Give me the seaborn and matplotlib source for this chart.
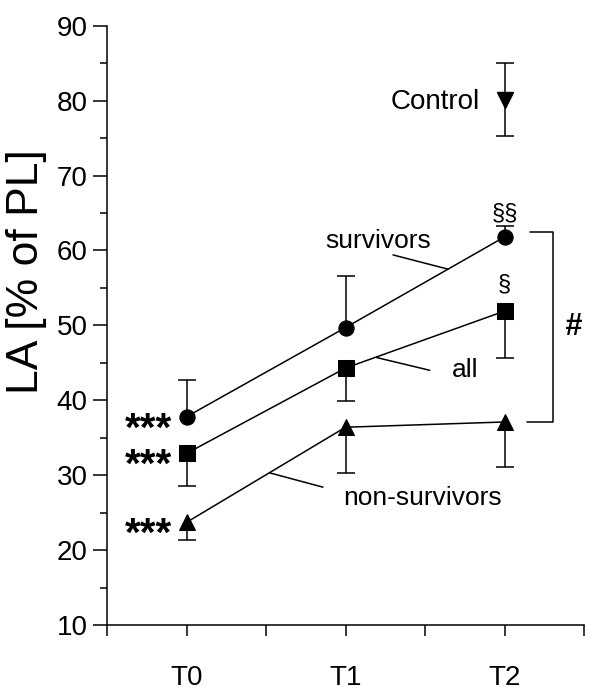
import numpy as np
import pandas as pd
import matplotlib
matplotlib.use("Agg")
import matplotlib.pyplot as plt
import seaborn as sns

# data
timepoints = ["T0", "T1", "T2"]
survivors = [37.8, 49.7, 61.8]
survivors_err_up = [4.9, 6.9, 1.4]
all_patients = [32.9, 44.3, 51.9]
all_err_low = [4.3, 4.4, 6.3]
non_survivors = [23.7, 36.4, 37.1]
non_survivors_err_low = [2.4, 6.1, 6.0]
control_value = 80.1
control_err = [4.8, 4.9]  # low, up

groups = ["survivors", "all", "non-survivors"]
series = [survivors, all_patients, non_survivors]

sns.set_style("ticks")
plt.rcParams["font.family"] = ["Liberation Sans", "DejaVu Sans"]
for k in ["text.color", "axes.labelcolor", "xtick.color", "ytick.color", "axes.edgecolor"]:
    plt.rcParams[k] = "black"

pos = np.arange(len(timepoints)) + 1
rows = []
for g, vals in zip(groups, series):
    for p, v in zip(pos, vals):
        rows.append({"group": g, "pos": p, "value": v})
df = pd.DataFrame(rows)

fig = plt.figure(figsize=(6, 6.98), dpi=100)
ax = fig.add_axes([107 / 600, 73 / 698, 477 / 600, 599.3 / 698])

# error bars (one-sided), caps drawn as markers
def one_sided(x, y, low, up):
    low = np.asarray(low, float)
    up = np.asarray(up, float)
    ax.errorbar(x, y, yerr=[low, up], fmt="none", ecolor="black",
                elinewidth=1.1, capsize=0, zorder=1)
    y = np.asarray(y, float)
    ends = []
    for xi, yi, lo, hi in zip(x, y, low, up):
        if lo > 0:
            ends.append((xi, yi - lo))
        if hi > 0:
            ends.append((xi, yi + hi))
    ex, ey = zip(*ends)
    ax.plot(ex, ey, ls="none", marker="_", ms=13, mew=1.1, color="black", zorder=1)

zero = [0, 0, 0]
one_sided(pos, survivors, zero, survivors_err_up)
one_sided(pos, all_patients, all_err_low, zero)
one_sided(pos, non_survivors, non_survivors_err_low, zero)
one_sided([3], [control_value], [control_err[0]], [control_err[1]])

sns.lineplot(data=df, x="pos", y="value", hue="group", style="group",
             palette=["black"] * 3, markers={"survivors": "o", "all": "s", "non-survivors": "^"},
             dashes=False, markersize=11, markeredgecolor="black", linewidth=1.1,
             legend=False, ax=ax, zorder=3)
ax.plot([3], [control_value], marker="v", ms=12, color="black", ls="none", zorder=3)

ax.set_xlim(0.5, 3.5)
ax.set_ylim(10, 90)
ax.set_xticks(np.arange(0.5, 3.51, 0.5))
ax.set_xticklabels(["", "T0", "", "T1", "", "T2", ""])
ax.set_yticks(np.arange(10, 91, 10))
ax.set_yticks(np.arange(15, 90, 10), minor=True)
ax.tick_params(axis="y", which="major", length=10, width=1.1, labelsize=20, pad=4, direction="out")
ax.tick_params(axis="y", which="minor", length=5, width=1.1, direction="out")
ax.tick_params(axis="x", length=8, width=1.1, labelsize=20, pad=21, direction="out")
ax.set_xlabel("")
ax.set_ylabel("LA [% of PL]", fontsize=32)
ax.yaxis.set_label_coords(-0.125, 0.59)
for s in ["top", "right"]:
    ax.spines[s].set_visible(False)
for s in ["left", "bottom"]:
    ax.spines[s].set_linewidth(1.1)

# annotations
fs = 19
for v in [survivors[0], all_patients[0], non_survivors[0]]:
    ax.annotate("***", xy=(0.91, v), xytext=(0, -17), textcoords="offset points",
                ha="right", va="baseline", fontsize=29, fontweight="bold")
ax.text(2.846, 78.85, "Control", ha="right", va="baseline", fontsize=20)
ax.text(2.204, 60.3, "survivors", ha="center", va="baseline", fontsize=fs)
ax.plot([2.299, 2.645], [59.4, 57.5], color="black", lw=1.1)
ax.text(2.75, 43.15, "all", ha="center", va="baseline", fontsize=fs)
ax.plot([2.196, 2.53], [45.7, 44.0], color="black", lw=1.1)
ax.text(2.487, 26.0, "non-survivors", ha="center", va="baseline", fontsize=fs)
ax.plot([1.525, 1.858], [30.3, 28.4], color="black", lw=1.1)
ax.text(3.0, 64.1, "§§", ha="center", va="baseline", fontsize=17)
ax.text(3.0, 54.6, "§", ha="center", va="baseline", fontsize=17)
ax.plot([3.16, 3.303, 3.303, 3.14], [62.5, 62.5, 37.1, 37.1], color="black", lw=1.1)
ax.text(3.43, 49.8, "#", ha="center", va="center", fontsize=22, style="italic", fontweight="bold")

fig.savefig("out.png", dpi=100)
